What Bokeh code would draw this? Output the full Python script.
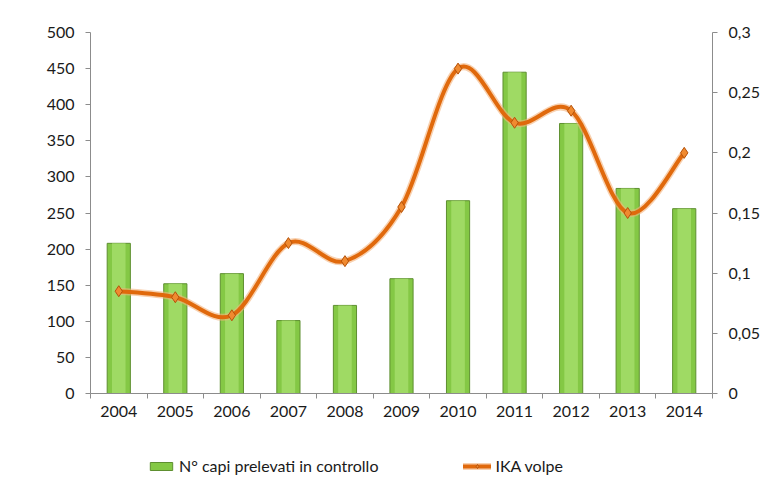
from bokeh.plotting import figure
from bokeh.layouts import column
from bokeh.models import (Range1d, LinearAxis, FixedTicker, CustomJSTickFormatter,
                          Legend, LegendItem, ColumnDataSource)
from bokeh.embed import file_html
from bokeh.resources import INLINE

years = ["2004", "2005", "2006", "2007", "2008", "2009", "2010", "2011", "2012", "2013", "2014"]
capi = [208, 152, 166, 101, 122, 159, 267, 445, 374, 284, 256]
ika = [0.085, 0.080, 0.065, 0.125, 0.110, 0.155, 0.270, 0.225, 0.235, 0.150, 0.200]
left_ticks = [0, 50, 100, 150, 200, 250, 300, 350, 400, 450, 500]
right_ticks = [0, 0.05, 0.1, 0.15, 0.2, 0.25, 0.3]

FONT = "Lato"
TXT = "#1a1a1a"
AX = "#8c8c8c"

n = len(years)
xs = [i + 0.5 for i in range(n)]

p = figure(frame_width=622, frame_height=361, x_range=Range1d(0, n), y_range=Range1d(0, 500),
           output_backend="svg", toolbar_location=None,
           min_border_left=90, min_border_right=52, min_border_top=32, min_border_bottom=0)
p.outline_line_color = None
p.xgrid.grid_line_color = None
p.ygrid.grid_line_color = None
p.background_fill_color = "white"
p.border_fill_color = "white"

p.extra_y_ranges = {"ika": Range1d(0, 0.3)}

src = ColumnDataSource(dict(x=xs, top=capi, y=ika))

# smooth line (Catmull-Rom bezier segments through the data points)
x0, y0, x1, y1, cx0, cy0, cx1, cy1 = [], [], [], [], [], [], [], []
for i in range(n - 1):
    pxm, pym = (xs[i - 1], ika[i - 1]) if i > 0 else (xs[i], ika[i])
    pxp, pyp = (xs[i + 2], ika[i + 2]) if i + 2 < n else (xs[i + 1], ika[i + 1])
    x0.append(xs[i]); y0.append(ika[i]); x1.append(xs[i + 1]); y1.append(ika[i + 1])
    cx0.append(xs[i] + (xs[i + 1] - pxm) / 6); cy0.append(ika[i] + (ika[i + 1] - pym) / 6)
    cx1.append(xs[i + 1] - (pxp - xs[i]) / 6); cy1.append(ika[i + 1] - (pyp - ika[i]) / 6)
bsrc = ColumnDataSource(dict(x0=x0, y0=y0, x1=x1, y1=y1, cx0=cx0, cy0=cy0, cx1=cx1, cy1=cy1))

BAR = dict(fill_color="#84C845", line_color="#5E8F30", line_width=1)
UNDER = dict(line_color="#F4B27C", line_width=7, line_alpha=0.6, line_cap="round")
MAIN = dict(line_color="#E0690C", line_width=4, line_cap="round")
MARK = dict(marker="diamond", size=11, fill_color="#F08A30", line_color="#B5520A", line_width=1)
BZ = dict(x0="x0", y0="y0", x1="x1", y1="y1", cx0="cx0", cy0="cy0", cx1="cx1", cy1="cy1")


def draw(fig, yname, visible=True):
    b = fig.vbar(x="x", top="top", width=0.41, source=src, visible=visible, **BAR)
    fig.vbar(x="x", top="top", width=0.24, source=src, visible=visible,
             fill_color="#A6DE6C", fill_alpha=0.8, line_color=None)
    u = fig.bezier(source=bsrc, y_range_name=yname, visible=visible, **BZ, **UNDER)
    m = fig.bezier(source=bsrc, y_range_name=yname, visible=visible, **BZ, **MAIN)
    s = fig.scatter(x="x", y="y", source=src, y_range_name=yname, visible=visible, **MARK)
    return b, u, m, s


draw(p, "ika")

# axes
p.xaxis.ticker = FixedTicker(ticks=xs, minor_ticks=list(range(n + 1)))
p.xaxis.formatter = CustomJSTickFormatter(args=dict(years=years),
                                          code="return years[Math.floor(tick)]")
p.yaxis.ticker = FixedTicker(ticks=left_ticks)

ax_r = LinearAxis(y_range_name="ika", ticker=FixedTicker(ticks=right_ticks),
                  formatter=CustomJSTickFormatter(
                      code="return (Math.round(tick*100)/100).toString().replace('.', ',')"))
p.add_layout(ax_r, "right")

for ax in [p.xaxis[0], p.yaxis[0], ax_r]:
    ax.axis_line_color = AX
    ax.major_tick_line_color = AX
    ax.major_tick_in = 0
    ax.major_tick_out = 5
    ax.minor_tick_line_color = None
    ax.major_label_text_font = FONT
    ax.major_label_text_font_size = "16px"
    ax.major_label_text_color = TXT
    ax.major_label_standoff = 11

p.xaxis[0].major_tick_line_color = None
p.xaxis[0].minor_tick_line_color = AX
p.xaxis[0].minor_tick_in = 0
p.xaxis[0].minor_tick_out = 5
p.xaxis[0].major_label_standoff = 7

# legend strip below the chart (legend-only, hidden glyphs)
q = figure(width=764, height=60, x_range=Range1d(0, n), y_range=Range1d(0, 500),
           output_backend="svg", toolbar_location=None,
           x_axis_location=None, y_axis_location=None,
           min_border_left=0, min_border_right=0, min_border_top=0, min_border_bottom=0)
q.outline_line_color = None
q.xgrid.grid_line_color = None
q.ygrid.grid_line_color = None
q.extra_y_ranges = {"ika": Range1d(0, 0.3)}
lb, lu, lm, ls = draw(q, "ika", visible=False)

legend = Legend(items=[LegendItem(label="N° capi prelevati in controllo", renderers=[lb]),
                       LegendItem(label="IKA volpe", renderers=[lu, lm, ls])],
                orientation="horizontal", location=(57, 4), margin=0, padding=0,
                spacing=85, glyph_width=28, glyph_height=10, label_standoff=4,
                label_text_font=FONT, label_text_font_size="16px", label_text_color=TXT,
                inactive_fill_alpha=0, click_policy="none",
                border_line_color=None, background_fill_alpha=0)
q.add_layout(legend)

open("out.html", "w").write(file_html(column(p, q, spacing=0), INLINE))
